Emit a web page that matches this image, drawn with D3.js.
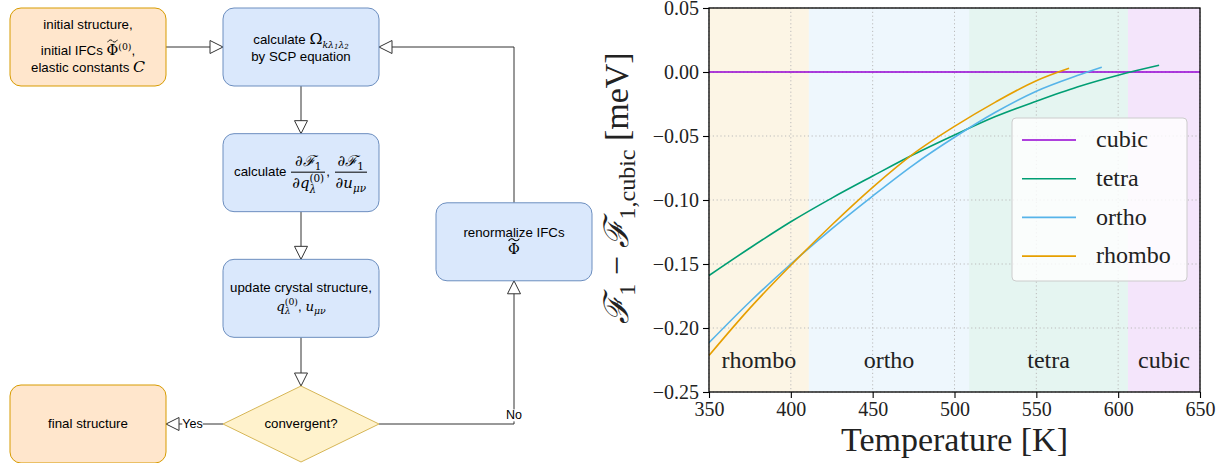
<!DOCTYPE html>
<html>
<head>
<meta charset="utf-8">
<script src="https://cdn.jsdelivr.net/npm/d3@7"></script>
<style>
  body { margin: 0; background: #fff; }
  .node {
    font-family: "Liberation Sans", Arial, sans-serif;
    font-size: 13.3px;
    color: #000;
    display: flex;
    align-items: center;
    justify-content: center;
    width: 100%;
    height: 100%;
  }
  .node .lbl { text-align: center; line-height: 1.25; }
  .m { font-family: "DejaVu Serif", "Liberation Serif", serif; }
  .i { font-style: italic; }
  .node sub, .node sup { font-size: 70%; line-height: 0; }
  .node sub sub { font-size: 75%; vertical-align: -0.15em; }
  .frac { display: inline-flex; flex-direction: column; vertical-align: middle; text-align: center; margin: 0 1px; line-height: 1.45; font-size: 112%; }
  .frac > span { padding: 0 1px; }
  .frac > span:last-child { border-top: 1px solid #000; }
  .ss { display: inline-flex; flex-direction: column; vertical-align: middle; font-size: 70%; line-height: 1.05; text-align: left; }
  .gap { display: block; margin: 8px 0 -2px; }
  .tl { position: relative; display: inline-block; font-size: 108%; }
  .tl::after {
    content: "";
    position: absolute;
    left: 0;
    right: 0;
    top: -3px;
    height: 4px;
    background: no-repeat center / 100% 100% url("data:image/svg+xml;utf8,<svg xmlns='http://www.w3.org/2000/svg' viewBox='0 0 10 4' preserveAspectRatio='none'><path d='M0.6,3.2 C2,0.4 4,0.6 5,2 S8,3.6 9.4,0.8' fill='none' stroke='black' stroke-width='0.9'/></svg>");
  }
</style>
</head>
<body>
<div id="container"></div>
<script>
const w = 1227;
const h = 463;

// ---- chart data ----
const series = ["cubic", "tetra", "ortho", "rhombo"];
const colors = ["#9400D3", "#009E73", "#56B4E9", "#E69F00"];

const cubicT = [350, 650];
const cubicF = [0, 0];
const tetraT = [350, 375, 400, 425, 450, 475, 500, 525, 550, 575, 600, 625];
const tetraF = [-0.159, -0.1375, -0.117, -0.0985, -0.0813, -0.0645, -0.0492, -0.0348, -0.0228, -0.0117, -0.0025, 0.0052];
const orthoT = [350, 375, 400, 425, 450, 475, 500, 525, 550, 575, 590];
const orthoF = [-0.2115, -0.1795, -0.15, -0.1225, -0.0969, -0.0725, -0.051, -0.0315, -0.015, -0.0028, 0.0037];
const rhomboT = [350, 375, 400, 425, 450, 475, 500, 525, 550, 570];
const rhomboF = [-0.2215, -0.1845, -0.151, -0.1195, -0.0901, -0.0638, -0.0425, -0.0235, -0.0068, 0.0029];

// stable phase of each temperature window
const phases = ["rhombo", "ortho", "tetra", "cubic"];
const phaseBounds = [350, 411, 509, 606, 650];

const xTicks = [350, 400, 450, 500, 550, 600, 650];
const yTicks = [-0.25, -0.2, -0.15, -0.1, -0.05, 0, 0.05];

// ---- flowchart content ----
const frac = (num, den) => `<span class="frac"><span>${num}</span><span>${den}</span></span>`;
const dF = '<span class="m">∂</span><span class="m i">ℱ</span><sub class="m">1</sub>';
const phiT = '<span class="m tl">Φ</span>';
const qLam = '<span class="m i">q</span><span class="ss m"><span>(0)</span><span class="i">λ</span></span>';

const steps = [
  { id: "init", kind: "io", col: 0, row: 0,
    label: `initial structure,<span class="gap">initial IFCs ${phiT}<sup class="m">(0)</sup>,</span>elastic constants <span class="m i" style="font-size:118%">C</span>` },
  { id: "scp", kind: "proc", col: 1, row: 0,
    label: 'calculate <span class="m" style="font-size:118%">Ω</span><sub class="m i">kλ<sub>1</sub>λ<sub>2</sub></sub><br>by SCP equation' },
  { id: "grad", kind: "proc", col: 1, row: 1,
    label: "calculate " + frac(dF, '<span class="m">∂</span>' + qLam) + ", " + frac(dF, '<span class="m">∂</span><span class="m i">u</span><sub class="m i">μν</sub>') },
  { id: "update", kind: "proc", col: 1, row: 2,
    label: `update crystal structure,<br>${qLam}, <span class="m i">u</span><sub class="m i">μν</sub>` },
  { id: "conv", kind: "decision", col: 1, row: 3, label: "convergent?" },
  { id: "final", kind: "io", col: 0, row: 3, label: "final structure" },
  { id: "renorm", kind: "proc", col: 2, row: 1.55, label: `renormalize IFCs<br>${phiT}` },
];

const flows = [
  { from: "init", to: "scp" },
  { from: "scp", to: "grad" },
  { from: "grad", to: "update" },
  { from: "update", to: "conv" },
  { from: "conv", to: "final", label: "Yes" },
  { from: "conv", to: "renorm", label: "No" },
  { from: "renorm", to: "scp" },
];

const svg = d3
  .select("#container")
  .append("svg")
  .attr("width", w)
  .attr("height", h)
  .attr("viewBox", `0 0 ${w} ${h}`);

// ================= flowchart =================
const boxW = 156;
const boxH = 78;
const colX = d3.scaleLinear().domain([0, 2]).range([88, 514]);
const rowY = d3.scaleLinear().domain([0, 3]).range([47, 424]);

const styles = {
  io: { fill: "#FFE6CC", stroke: "#D79B00" },
  proc: { fill: "#DAE8FC", stroke: "#6C8EBF" },
  decision: { fill: "#FFF2CC", stroke: "#D6B656" },
};

const byId = {};
steps.forEach((s) => {
  s.cx = colX(s.col);
  s.cy = rowY(s.row);
  s.hw = boxW / 2;
  s.hh = s.kind === "decision" ? 38 : boxH / 2;
  byId[s.id] = s;
});

svg
  .append("defs")
  .append("marker")
  .attr("id", "open-arrow")
  .attr("markerUnits", "userSpaceOnUse")
  .attr("markerWidth", 16)
  .attr("markerHeight", 16)
  .attr("viewBox", "-1 -1 16 16")
  .attr("refX", 13)
  .attr("refY", 6.5)
  .attr("orient", "auto")
  .append("path")
  .attr("d", "M0,0 L13,6.5 L0,13 Z")
  .attr("fill", "#fff")
  .attr("stroke", "#333")
  .attr("stroke-width", 1);

// route each arrow between node boundaries
function route(a, b) {
  if (a.row === b.row) {
    const s = Math.sign(b.cx - a.cx);
    return [[a.cx + s * a.hw, a.cy], [b.cx - s * b.hw, b.cy]];
  }
  if (a.col === b.col) {
    const s = Math.sign(b.cy - a.cy);
    return [[a.cx, a.cy + s * a.hh], [b.cx, b.cy - s * b.hh]];
  }
  if (a.kind === "decision") {
    const sx = Math.sign(b.cx - a.cx);
    const sy = Math.sign(b.cy - a.cy);
    return [[a.cx + sx * a.hw, a.cy], [b.cx, a.cy], [b.cx, b.cy - sy * b.hh]];
  }
  const sx = Math.sign(b.cx - a.cx);
  const sy = Math.sign(b.cy - a.cy);
  return [[a.cx, a.cy + sy * a.hh], [a.cx, b.cy], [b.cx - sx * b.hw, b.cy]];
}

const edges = svg.append("g").attr("class", "edges");
flows.forEach((f) => {
  const pts = route(byId[f.from], byId[f.to]);
  f.pts = pts;
  edges
    .append("path")
    .attr("d", d3.line()(pts))
    .attr("fill", "none")
    .attr("stroke", "#333")
    .attr("stroke-width", 1)
    .attr("marker-end", "url(#open-arrow)");
});

// nodes
const nodes = svg
  .append("g")
  .attr("class", "nodes")
  .selectAll("g")
  .data(steps)
  .enter()
  .append("g")
  .attr("transform", (d) => `translate(${d.cx},${d.cy})`);

nodes
  .filter((d) => d.kind !== "decision")
  .append("rect")
  .attr("x", (d) => -d.hw)
  .attr("y", (d) => -d.hh)
  .attr("width", boxW)
  .attr("height", boxH)
  .attr("rx", 11)
  .attr("fill", (d) => styles[d.kind].fill)
  .attr("stroke", (d) => styles[d.kind].stroke)
  .attr("stroke-width", 1);

nodes
  .filter((d) => d.kind === "decision")
  .append("path")
  .attr("d", (d) => `M0,${-d.hh} L${d.hw},0 L0,${d.hh} L${-d.hw},0 Z`)
  .attr("fill", (d) => styles[d.kind].fill)
  .attr("stroke", (d) => styles[d.kind].stroke)
  .attr("stroke-width", 1);

nodes
  .append("foreignObject")
  .attr("x", (d) => -d.hw)
  .attr("y", (d) => -d.hh)
  .attr("width", boxW)
  .attr("height", (d) => d.hh * 2)
  .append("xhtml:div")
  .attr("class", "node")
  .append("xhtml:div")
  .attr("class", "lbl")
  .html((d) => d.label);

// edge labels (Yes / No) on white background
flows
  .filter((f) => f.label)
  .forEach((f) => {
    let x, y;
    if (f.pts.length === 2) {
      x = (f.pts[0][0] + f.pts[1][0]) / 2 - 2;
      y = f.pts[0][1];
    } else {
      x = f.pts[1][0];
      y = f.pts[1][1] - 9;
    }
    const g = svg.append("g").attr("transform", `translate(${x},${y})`);
    const t = g
      .append("text")
      .attr("text-anchor", "middle")
      .attr("dy", "0.35em")
      .style("font-family", '"Liberation Sans", Arial, sans-serif')
      .style("font-size", "12.5px")
      .text(f.label);
    const bb = t.node().getBBox();
    g.insert("rect", "text")
      .attr("x", bb.x)
      .attr("y", bb.y + 1)
      .attr("width", bb.width)
      .attr("height", bb.height - 2)
      .attr("fill", "#fff");
  });

// ================= energy chart =================
const plot = { left: 709, right: 1200, top: 8, bottom: 392 };
const serif = '"Liberation Serif", "DejaVu Serif", serif';

const xScale = d3.scaleLinear().domain([350, 650]).range([plot.left, plot.right]);
const yScale = d3.scaleLinear().domain([-0.25, 0.05]).range([plot.bottom, plot.top]);
const colorOf = d3.scaleOrdinal().domain(series).range(colors);

const chart = svg.append("g").attr("class", "chart");

chart
  .append("clipPath")
  .attr("id", "plot-clip")
  .append("rect")
  .attr("x", plot.left)
  .attr("y", plot.top)
  .attr("width", plot.right - plot.left)
  .attr("height", plot.bottom - plot.top);

// phase bands
const bands = phases.map((p, i) => ({ name: p, t0: phaseBounds[i], t1: phaseBounds[i + 1] }));
chart
  .selectAll(".band")
  .data(bands)
  .enter()
  .append("rect")
  .attr("class", "band")
  .attr("x", (d) => xScale(d.t0))
  .attr("y", plot.top)
  .attr("width", (d) => xScale(d.t1) - xScale(d.t0))
  .attr("height", plot.bottom - plot.top)
  .attr("fill", (d) => colorOf(d.name))
  .attr("fill-opacity", 0.1);

// grid
const grid = chart.append("g").attr("stroke", "#bbb").attr("stroke-width", 1).attr("stroke-dasharray", "1.2,2.6");
grid
  .selectAll(".gx")
  .data(xTicks)
  .enter()
  .append("line")
  .attr("x1", (d) => xScale(d))
  .attr("x2", (d) => xScale(d))
  .attr("y1", plot.top)
  .attr("y2", plot.bottom);
grid
  .selectAll(".gy")
  .data(yTicks)
  .enter()
  .append("line")
  .attr("y1", (d) => yScale(d))
  .attr("y2", (d) => yScale(d))
  .attr("x1", plot.left)
  .attr("x2", plot.right);

// phase names
chart
  .selectAll(".phase-label")
  .data(bands)
  .enter()
  .append("text")
  .attr("class", "phase-label")
  .attr("x", (d) => xScale((d.t0 + d.t1) / 2))
  .attr("y", yScale(-0.225))
  .attr("dy", "0.32em")
  .attr("text-anchor", "middle")
  .style("font-family", serif)
  .style("font-size", "24px")
  .style("fill", "#222")
  .text((d) => d.name);

// curves
const curves = [
  { name: "cubic", t: cubicT, f: cubicF },
  { name: "tetra", t: tetraT, f: tetraF },
  { name: "ortho", t: orthoT, f: orthoF },
  { name: "rhombo", t: rhomboT, f: rhomboF },
];
const line = d3
  .line()
  .x((d) => xScale(d[0]))
  .y((d) => yScale(d[1]))
  .curve(d3.curveMonotoneX);

chart
  .append("g")
  .attr("clip-path", "url(#plot-clip)")
  .selectAll("path")
  .data(curves)
  .enter()
  .append("path")
  .attr("d", (d) => line(d3.zip(d.t, d.f)))
  .attr("fill", "none")
  .attr("stroke", (d) => colorOf(d.name))
  .attr("stroke-width", 1.6);

// axes
const xAxis = chart
  .append("g")
  .attr("transform", `translate(0,${plot.bottom})`)
  .call(d3.axisBottom(xScale).tickValues(xTicks).tickFormat(d3.format("d")).tickSize(6).tickPadding(4));
const yAxis = chart
  .append("g")
  .attr("transform", `translate(${plot.left},0)`)
  .call(d3.axisLeft(yScale).tickValues(yTicks).tickFormat(d3.format(".2f")).tickSize(6).tickPadding(4));

[xAxis, yAxis].forEach((a) => {
  a.attr("font-family", null).attr("font-size", null);
  a.select(".domain").remove();
  a.selectAll(".tick line").attr("stroke", "#000").attr("stroke-width", 1.1);
  a.selectAll(".tick text").style("font-family", serif).style("font-size", "20px").attr("fill", "#222");
});
yAxis.selectAll(".tick text").attr("dy", "0.34em");

// frame
chart
  .append("rect")
  .attr("x", plot.left)
  .attr("y", plot.top)
  .attr("width", plot.right - plot.left)
  .attr("height", plot.bottom - plot.top)
  .attr("fill", "none")
  .attr("stroke", "#000")
  .attr("stroke-width", 1.3);

// axis titles
chart
  .append("text")
  .attr("x", (plot.left + plot.right) / 2)
  .attr("y", 451)
  .attr("text-anchor", "middle")
  .style("font-family", serif)
  .style("font-size", "34px")
  .attr("fill", "#222")
  .text("Temperature [K]");

const yTitle = chart
  .append("text")
  .attr("transform", `translate(628,${(plot.top + plot.bottom) / 2 - 12}) rotate(-90)`)
  .attr("text-anchor", "middle")
  .style("font-family", serif)
  .style("font-size", "34px")
  .attr("fill", "#222");
const titleParts = [
  ["ℱ", 0, true], ["1", 1], [" − ", 0], ["ℱ", 0, true], ["1,cubic", 1], [" [meV]", 0],
];
let shifted = false;
titleParts.forEach(([s, sub, it]) => {
  const ts = yTitle.append("tspan").text(s);
  if (sub && !shifted) { ts.attr("dy", 7).style("font-size", "24px"); shifted = true; }
  else if (!sub && shifted) { ts.attr("dy", -7); shifted = false; }
  else if (sub) ts.style("font-size", "24px");
  if (it) ts.style("font-style", "italic");
});

// legend
const legend = chart.append("g").attr("transform", "translate(1012,118)");
legend
  .append("rect")
  .attr("width", 175)
  .attr("height", 163)
  .attr("rx", 4)
  .attr("fill", "#fff")
  .attr("fill-opacity", 0.8)
  .attr("stroke", "#ccc")
  .attr("stroke-width", 1);
const item = legend
  .selectAll(".item")
  .data(series)
  .enter()
  .append("g")
  .attr("transform", (d, i) => `translate(0,${22 + i * 38.7})`);
item
  .append("line")
  .attr("x1", 10)
  .attr("x2", 64)
  .attr("stroke", (d) => colorOf(d))
  .attr("stroke-width", 1.6);
item
  .append("text")
  .attr("x", 84)
  .attr("dy", "0.3em")
  .style("font-family", serif)
  .style("font-size", "24px")
  .attr("fill", "#222")
  .text((d) => d);
</script>
</body>
</html>
